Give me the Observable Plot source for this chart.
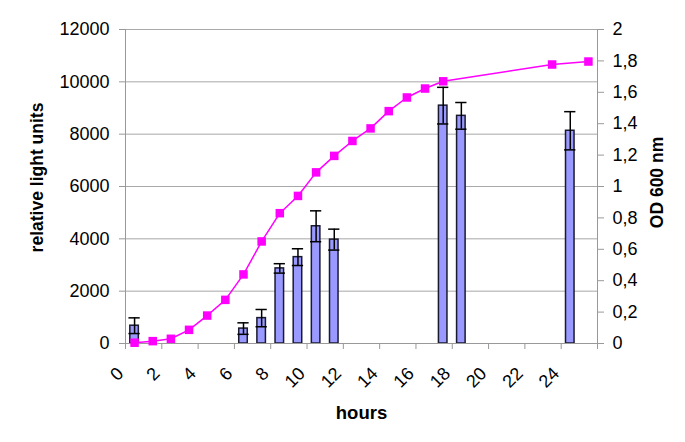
<!DOCTYPE html>
<html>
<head>
<meta charset="utf-8">
<script src="https://cdn.jsdelivr.net/npm/d3@7"></script>
<script src="https://cdn.jsdelivr.net/npm/@observablehq/plot@0.6"></script>
<style>
  html, body { margin: 0; padding: 0; background: #fff; }
  #chart { width: 685px; height: 442px; }
</style>
</head>
<body>
<div id="chart"></div>
<script>
// Luminescence (bars, left axis)
const lumHours = [0.5, 6.5, 7.5, 8.5, 9.5, 10.5, 11.5, 17.5, 18.5, 24.5];
const lumValues = [680, 570, 970, 2870, 3300, 4480, 3970, 9090, 8700, 8130];
const lumErrors = [300, 220, 330, 180, 320, 590, 400, 700, 510, 730];

// Optical density (line, right axis)
const odHours = [0.5, 1.5, 2.5, 3.5, 4.5, 5.5, 6.5, 7.5, 8.5, 9.5, 10.5, 11.5, 12.5, 13.5, 14.5, 15.5, 16.5, 17.5, 23.5, 25.5];
const odValues = [0.005, 0.015, 0.03, 0.087, 0.178, 0.278, 0.44, 0.65, 0.83, 0.94, 1.09, 1.195, 1.29, 1.37, 1.48, 1.567, 1.624, 1.67, 1.777, 1.796];

// Axis ticks
const xTickLabels = [0, 2, 4, 6, 8, 10, 12, 14, 16, 18, 20, 22, 24];
const xTickMarks = [0, 2, 4, 6, 8, 10, 12, 14, 16, 18, 20, 22, 24, 26];
const leftTicks = [0, 2000, 4000, 6000, 8000, 10000, 12000];
const rightTicks = [0, 0.2, 0.4, 0.6, 0.8, 1, 1.2, 1.4, 1.6, 1.8, 2];

const leftMax = 12000, rightMax = 2;
const k = leftMax / rightMax;

const bars = lumHours.map((h, i) => ({h, v: lumValues[i], e: lumErrors[i]}));
const od = odHours.map((h, i) => ({h, y: odValues[i] * k}));
const fmtComma = d => String(+(d / k).toFixed(1)).replace(".", ",");

const halfW = 0.235, capW = 0.31;
const axisGray = "#999";
const fs = 18;

const chart = Plot.plot({
  width: 685,
  height: 442,
  marginLeft: 125,
  marginRight: 88,
  marginTop: 29,
  marginBottom: 99,
  style: {fontFamily: "'Liberation Sans', Arial, sans-serif", fontSize: fs + "px", background: "#fff", color: "#000"},
  x: {domain: [0, 26]},
  y: {domain: [0, leftMax]},
  marks: [
    Plot.gridY(leftTicks, {stroke: "#a8a8a8", strokeOpacity: 1, strokeWidth: 1}),
    Plot.rectY(bars, {x1: d => d.h - halfW, x2: d => d.h + halfW, y1: 0, y2: "v", fill: "#9999ff", stroke: "#1a1a2e", strokeWidth: 1.5}),
    Plot.ruleX(bars, {x: "h", y1: d => d.v - d.e, y2: d => d.v + d.e, stroke: "#000", strokeWidth: 1.5}),
    Plot.ruleY(bars, {x1: d => d.h - capW, x2: d => d.h + capW, y: d => d.v + d.e, stroke: "#000", strokeWidth: 1.5}),
    Plot.ruleY(bars, {x1: d => d.h - capW, x2: d => d.h + capW, y: d => d.v - d.e, stroke: "#000", strokeWidth: 1.5}),
    Plot.ruleX([0, 26], {stroke: axisGray, strokeWidth: 1}),
    Plot.ruleY([0], {stroke: axisGray, strokeWidth: 1}),
    Plot.axisY({anchor: "left", ticks: leftTicks, tickFormat: d => String(d), tickSize: 6, tickPadding: 10, stroke: axisGray, fill: "#000", label: null}),
    Plot.axisY({anchor: "right", ticks: rightTicks.map(v => v * k), tickFormat: fmtComma, tickSize: 6, tickPadding: 9, stroke: axisGray, fill: "#000", label: null}),
    Plot.axisX({ticks: xTickMarks, tickSize: 6, tickFormat: () => "", stroke: axisGray, label: null}),
    Plot.text(xTickLabels, {x: d => d, frameAnchor: "bottom", text: d => String(d), rotate: -45, textAnchor: "end", lineAnchor: "middle", dx: -5, dy: 27, fill: "#000", fontSize: fs}),
    Plot.line(od, {x: "h", y: "y", stroke: "#ff00ff", strokeWidth: 1.5}),
    Plot.dot(od, {x: "h", y: "y", symbol: "square", r: 4.8, fill: "#ff00ff", stroke: "none"}),
    Plot.text(["relative light units"], {frameAnchor: "left", textAnchor: "middle", rotate: -90, dx: -88, dy: -9, fontWeight: "bold", fontSize: 17.5, fill: "#000"}),
    Plot.text(["OD 600 nm"], {frameAnchor: "right", textAnchor: "middle", rotate: -90, dx: 60, dy: -4, fontWeight: "bold", fontSize: 17.5, fill: "#000"}),
    Plot.text(["hours"], {frameAnchor: "bottom", textAnchor: "middle", dy: 70, lineAnchor: "middle", fontWeight: "bold", fontSize: 18.5, fill: "#000"})
  ]
});
document.getElementById("chart").appendChild(chart);
</script>
</body>
</html>
